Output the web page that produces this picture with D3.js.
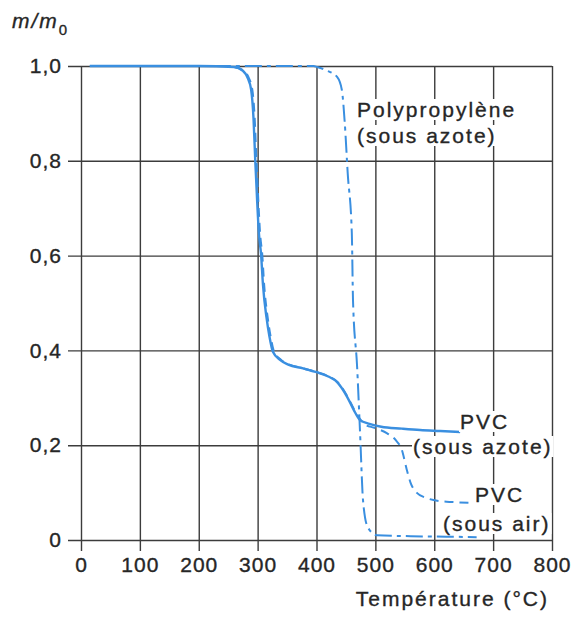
<!DOCTYPE html>
<html>
<head>
<meta charset="utf-8">
<script src="https://cdn.jsdelivr.net/npm/d3@7"></script>
<style>
  body { margin: 0; background: #fff; }
  svg text { font-family: "Liberation Sans", Arial, sans-serif; fill: #262626; stroke: #262626; stroke-width: 0.35px; }
</style>
</head>
<body>
<div id="chart"></div>
<script>
// temperature (°C) / m/m0
var pvcAzote = [
  [15,1.0],[100,1.0],[200,1.0],[260,0.998],[275,0.99],[283,0.975],[289,0.95],[293,0.89],
  [296,0.80],[299,0.72],[302,0.65],[306,0.60],[309,0.54],[315,0.47],[320,0.43],[326,0.397],
  [338,0.38],[352,0.37],[377,0.362],[400,0.354],[420,0.345],[435,0.333],[452,0.302],
  [463,0.275],[474,0.253],[490,0.245],[510,0.239],[545,0.235],[576,0.232],[610,0.23],[644,0.228]
];
var pvcAir = [
  [260,0.998],[276,0.99],[285,0.975],[291,0.95],[295,0.89],[298,0.80],[301,0.72],[304,0.65],
  [308,0.60],[311,0.54],[317,0.47],[322,0.43],[328,0.397],[340,0.38],[354,0.37],[378,0.362],
  [401,0.354],[421,0.345],[436,0.333],[453,0.302],[464,0.275],[474,0.255],[480,0.245],
  [500,0.236],[520,0.225],[535,0.21],[545,0.19],[553,0.15],[560,0.12],[570,0.10],[588,0.088],
  [610,0.082],[632,0.08],[665,0.078],[700,0.077]
];
var polypropylene = [
  [15,1.0],[200,1.0],[395,1.0],[401,0.998],[418,0.99],[435,0.977],[443,0.95],[448,0.88],
  [453,0.774],[460,0.647],[462,0.506],[469,0.365],[474,0.226],[479,0.084],[487,0.027],
  [503,0.01],[560,0.008],[620,0.007],[672,0.006]
];

var xTicks = [0,100,200,300,400,500,600,700,800];
var yTicks = [0,0.2,0.4,0.6,0.8,1.0];
var yTickLabels = ['0','0,2','0,4','0,6','0,8','1,0'];

var W = 576, H = 619;
var plotL = 81, plotR = 552, plotT = 66, plotB = 540;
var blue = '#3a8fe0';
var gridColor = '#3c3c3c';

var svg = d3.select('#chart')
    .append('svg')
    .attr('width', W)
    .attr('height', H);

var x = d3.scaleLinear().domain([0, 800]).range([plotL, plotR]);
var y = d3.scaleLinear().domain([0, 1]).range([plotB, plotT]);

// x axis + vertical grid
var xAxis = svg.append('g')
    .attr('transform', 'translate(0,' + plotB + ')')
    .call(d3.axisBottom(x).tickValues(xTicks).tickSize(11).tickSizeOuter(0).tickPadding(6));
xAxis.select('.domain').remove();
xAxis.selectAll('line')
    .attr('y1', -(plotB - plotT))
    .attr('stroke', gridColor)
    .attr('stroke-width', 1.4);
xAxis.selectAll('text')
    .attr('font-size', 21)
    .attr('letter-spacing', 1)
    .attr('fill', '#262626');

// y axis + horizontal grid
var yAxis = svg.append('g')
    .attr('transform', 'translate(' + plotL + ',0)')
    .call(d3.axisLeft(y).tickValues(yTicks).tickSize(13).tickSizeOuter(0).tickPadding(6)
      .tickFormat(function(d, i) { return yTickLabels[i]; }));
yAxis.select('.domain').remove();
yAxis.selectAll('line')
    .attr('x1', plotR - plotL)
    .attr('stroke', gridColor)
    .attr('stroke-width', 1.4);
yAxis.selectAll('text')
    .attr('font-size', 21)
    .attr('letter-spacing', 1)
    .attr('fill', '#262626');

// axis titles
var yt = svg.append('text')
    .attr('x', 12)
    .attr('y', 28)
    .attr('font-size', 21)
    .attr('letter-spacing', 2);
yt.append('tspan').attr('font-style', 'italic').text('m/m');
yt.append('tspan').attr('font-size', 15).attr('dy', 7).text('0');

svg.append('text')
    .attr('x', 549)
    .attr('y', 606)
    .attr('text-anchor', 'end')
    .attr('font-size', 21)
    .attr('letter-spacing', 2)
    .text('Température (°C)');

// curves
var line = d3.line()
    .x(function(d) { return x(d[0]); })
    .y(function(d) { return y(d[1]); })
    .curve(d3.curveMonotoneX);

svg.append('path')
    .datum(polypropylene)
    .attr('d', line)
    .attr('fill', 'none')
    .attr('stroke', blue)
    .attr('stroke-width', 2)
    .attr('stroke-dasharray', '17,5,4,5');

svg.append('path')
    .datum(pvcAir)
    .attr('d', line)
    .attr('fill', 'none')
    .attr('stroke', blue)
    .attr('stroke-width', 2)
    .attr('stroke-dasharray', '9,6');

svg.append('path')
    .datum(pvcAzote)
    .attr('d', line)
    .attr('fill', 'none')
    .attr('stroke', blue)
    .attr('stroke-width', 2.4);

// curve labels, white box behind so the grid is cut
var labels = [
  { t: 'Polypropylène', x: 357, y: 117 },
  { t: '(sous azote)', x: 357, y: 143 },
  { t: 'PVC', x: 460, y: 429 },
  { t: '(sous azote)', x: 413, y: 454 },
  { t: 'PVC', x: 475, y: 502 },
  { t: '(sous air)', x: 443, y: 531 }
];

labels.forEach(function(l) {
  var g = svg.append('g');
  var txt = g.append('text')
      .attr('x', l.x)
      .attr('y', l.y)
      .attr('font-size', 21)
      .attr('letter-spacing', 2)
      .text(l.t);
  var b = txt.node().getBBox();
  g.insert('rect', 'text')
      .attr('x', b.x - 1)
      .attr('y', b.y + 1)
      .attr('width', b.width + 2)
      .attr('height', b.height - 2)
      .attr('fill', '#fff')
      .attr('stroke', 'none');
});
</script>
</body>
</html>
